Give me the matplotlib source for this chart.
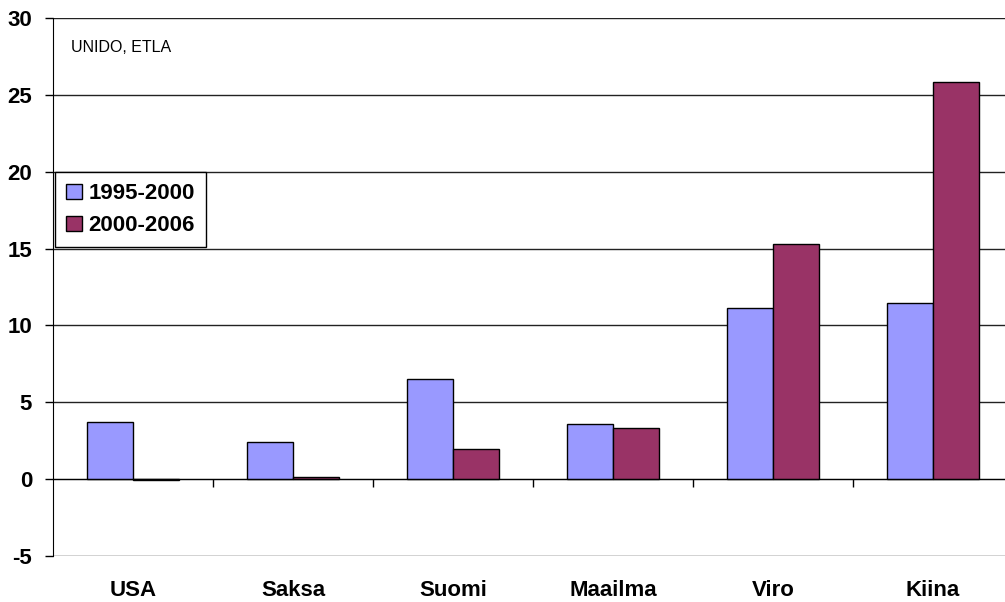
import numpy as np
import matplotlib.pyplot as plt

plt.rcParams['font.family'] = ['Liberation Sans', 'DejaVu Sans']
plt.rcParams['axes.unicode_minus'] = False

countries = ['USA', 'Saksa', 'Suomi', 'Maailma', 'Viro', 'Kiina']
growth_1995_2000 = [3.7, 2.43, 6.5, 3.58, 11.14, 11.44]
growth_2000_2006 = [-0.08, 0.15, 1.95, 3.3, 15.3, 25.82]
series_labels = ['1995-2000', '2000-2006']
source_note = 'UNIDO, ETLA'

x = np.arange(len(countries))
width = 1 / 3.5

fig = plt.figure(figsize=(10.05, 6.02), dpi=100)
ax = fig.add_axes([53 / 1005, 46 / 602, 960 / 1005, 538 / 602])

ax.bar(x - width / 2, growth_1995_2000, width, color='#9999FF', edgecolor='black',
       linewidth=1, label=series_labels[0], zorder=3)
ax.bar(x + width / 2, growth_2000_2006, width, color='#993366', edgecolor='black',
       linewidth=1, label=series_labels[1], zorder=3)

ax.set_xlim(-0.5, len(countries) - 0.5)
ax.set_ylim(-5, 30)
ax.set_yticks(np.arange(-5, 31, 5))
ax.yaxis.grid(True, color='#222222', linewidth=1)
ax.set_axisbelow(True)

for s in ['top', 'right']:
    ax.spines[s].set_visible(False)
ax.spines['left'].set_color('black')
ax.spines['bottom'].set_position(('data', 0))
ax.spines['bottom'].set_zorder(4)

ax.set_xticks(x[:-1] + 0.5, minor=True)
ax.set_xticks(x)
ax.set_xticklabels([])
ax.tick_params(axis='x', which='major', length=0)
ax.tick_params(axis='x', which='minor', length=6, width=1, direction='out')
ax.tick_params(axis='y', length=6, width=1, pad=9, labelsize=16)
for lbl in ax.get_yticklabels():
    lbl.set_fontweight('bold')

sec = ax.secondary_xaxis(0)
sec.set_xticks(x)
sec.set_xticklabels(countries, fontsize=16, fontweight='bold')
sec.tick_params(length=0, pad=17)
sec.spines['bottom'].set_visible(False)

ax.text(18 / 960, 0.945, source_note, transform=ax.transAxes, fontsize=11.5,
        va='center', ha='left')

leg = ax.legend(loc='upper left', bbox_to_anchor=(55 / 1005, 1 - 172 / 602),
                bbox_transform=fig.transFigure, fancybox=False, framealpha=1,
                edgecolor='black', prop={'weight': 'bold', 'size': 16},
                handlelength=0.7, handleheight=0.7, handletextpad=0.3,
                borderpad=0.5, labelspacing=0.5, borderaxespad=0)
leg.get_frame().set_linewidth(1)

fig.savefig('out.png', dpi=100)
